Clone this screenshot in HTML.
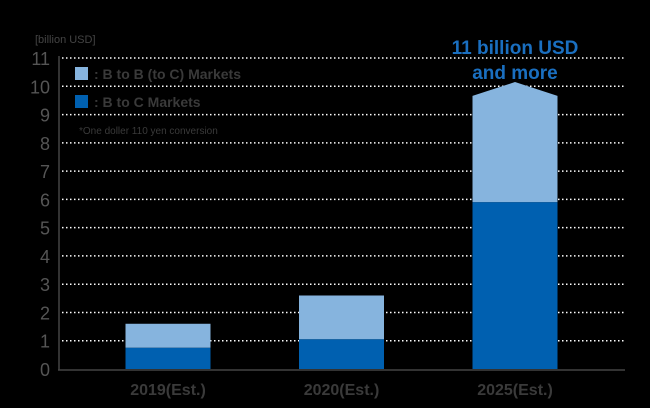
<!DOCTYPE html>
<html><head><meta charset="utf-8"><style>
body{margin:0;background:#000;width:650px;height:408px;overflow:hidden}
svg{display:block}
text{font-family:"Liberation Sans",sans-serif}
</style></head><body>
<svg id="chart" width="650" height="408" viewBox="0 0 650 408">
<rect width="650" height="408" fill="#000"/>
<g id="grid"></g>
<g id="bars"></g>
<line x1="59" y1="56" x2="59" y2="370" stroke="#444" stroke-width="1.5"/>
<line x1="58" y1="370" x2="625" y2="370" stroke="#444" stroke-width="1.5"/>
<text x="35" y="43" font-size="11" fill="#444">[billion USD]</text>
<g id="legend">
<rect x="75" y="67" width="13" height="13" fill="#86b4de"/>
<text x="94" y="79" font-size="14" font-weight="bold" fill="#3a3a3a">: B to B (to C) Markets</text>
<rect x="75" y="95" width="13" height="13" fill="#0060b0"/>
<text x="94" y="107" font-size="14" font-weight="bold" fill="#3a3a3a">: B to C Markets</text>
<text x="79" y="134" font-size="10" fill="#3a3a3a">*One doller 110 yen conversion</text>
</g>
<text x="515" y="54" font-size="19" font-weight="bold" fill="#1a6fc0" text-anchor="middle">11 billion USD</text>
<text x="515" y="79" font-size="19" font-weight="bold" fill="#1a6fc0" text-anchor="middle">and more</text>
</svg>
<script>
const categories=["2019(Est.)","2020(Est.)","2025(Est.)"];
const b2cValues=[0.75,1.05,5.9];
const totalValues=[1.6,2.6,9.66];
const peakValue=10.15;
const yTicks=[0,1,2,3,4,5,6,7,8,9,10,11];
const NS="http://www.w3.org/2000/svg";
const y=v=>369-v*28.27;
const xCenter=i=>168+i*173.5;
const bw=85;
function mk(tag,attrs,parent){const e=document.createElementNS(NS,tag);for(const k in attrs)e.setAttribute(k,attrs[k]);parent.appendChild(e);return e;}
const grid=document.getElementById('grid'),bars=document.getElementById('bars');
yTicks.forEach(t=>{
  if(t>0){const l=mk('line',{x1:62,x2:625,y1:y(t),y2:y(t),stroke:'#fff','stroke-width':1.5,'stroke-dasharray':'1.5 2.5'},grid);
  
  }
  const tx=mk('text',{x:50,y:y(t)+7,'font-size':18,fill:'#555','text-anchor':'end'},grid);
  tx.textContent=t;
  
  
});
categories.forEach((c,i)=>{
  const x0=xCenter(i)-bw/2;
  let top;
  if(i===categories.length-1){
    top=mk('polygon',{points:`${x0},${y(b2cValues[i])} ${x0},${y(totalValues[i])} ${xCenter(i)},${y(peakValue)} ${x0+bw},${y(totalValues[i])} ${x0+bw},${y(b2cValues[i])}`,fill:'#86b4de'},bars);
  } else {
    top=mk('rect',{x:x0,y:y(totalValues[i]),width:bw,height:y(b2cValues[i])-y(totalValues[i]),fill:'#86b4de'},bars);
  }
  
  
  const bot=mk('rect',{x:x0,y:y(b2cValues[i]),width:bw,height:y(0)-y(b2cValues[i]),fill:'#0060b0'},bars);
  
  
  const lb=mk('text',{x:xCenter(i),y:395,'font-size':16,'font-weight':'bold',fill:'#3a3a3a','text-anchor':'middle'},bars);
  lb.textContent=c;
  
  
});
</script>
</body></html>
